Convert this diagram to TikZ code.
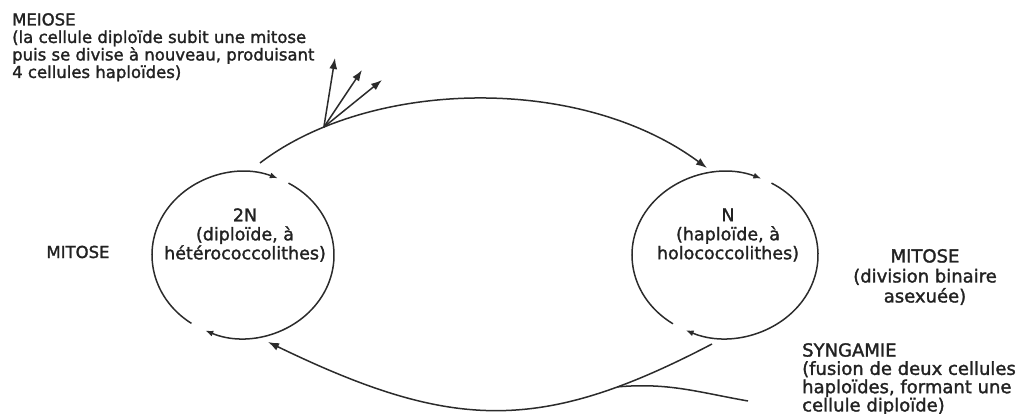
\documentclass[tikz,border=0pt]{standalone}
\usepackage{fontspec}
\setmainfont{DejaVu Sans}[FakeBold=1.6]
\usetikzlibrary{arrows.meta}
\definecolor{linec}{HTML}{2B2B2B}
\definecolor{textc}{HTML}{222222}
\begin{document}
\begin{tikzpicture}[x=1pt,y=1pt,
  conn/.style={draw=linec, line width=1.5pt},
  bigtip/.style={-{Latex[length=11pt,width=8pt]}},
  smalltip/.style={-{Latex[length=8pt,width=6pt]}},
  lbl/.style={font=\fontsize{17.5}{19}\selectfont, text=textc, inner sep=0pt, align=center},
  lblL/.style={font=\fontsize{16.5}{17.5}\selectfont, text=textc, inner sep=0pt, align=left}]
\useasboundingbox (0,0) rectangle (1023,414);
% cell centres
\coordinate (L) at (243,159);
\coordinate (R) at (725,159);
% texts
\node[lblL, anchor=north west] (meiose) at (12,401) {MEIOSE\\(la cellule diploïde subit une mitose\\puis se divise à nouveau, produisant\\4 cellules haploïdes)};
\node[lbl] (c2n) at (245,179) {2N\\(diploïde, à\\hétérococcolithes)};
\node[lbl] (cn) at (728,179) {N\\(haploïde, à\\holococcolithes)};
\node[lbl, font=\fontsize{16.5}{19}\selectfont] (mitL) at (78,162) {MITOSE};
\node[lbl, font=\fontsize{18}{20}\selectfont] (mitR) at (925,137) {MITOSE\\(division binaire\\asexuée)};
\node[lbl, font=\fontsize{18}{18.3}\selectfont, align=left, anchor=north west] (syng) at (802,71) {SYNGAMIE\\(fusion de deux cellules\\haploïdes, formant une\\cellule diploïde)};
% left cell (mitosis loop)
\draw[conn, smalltip] ([shift={(235.5:91 and 83)}]L) arc[start angle=235.5, end angle=67.5, x radius=91, y radius=83];
\draw[conn, smalltip] ([shift={(60:91 and 83)}]L) arc[start angle=60, end angle=-114.5, x radius=91, y radius=83];
% right cell (mitosis loop)
\draw[conn, smalltip] ([shift={(236:93 and 83)}]R) arc[start angle=236, end angle=67, x radius=93, y radius=83];
\draw[conn, smalltip] ([shift={(60:93 and 83)}]R) arc[start angle=60, end angle=-115, x radius=93, y radius=83];
% meiosis: 2N -> N
\coordinate (t0) at (260,251);
\coordinate (t1) at (707,246);
\draw[conn, bigtip] (t0) .. controls (370,335) and (580,340) .. (t1) coordinate[pos=0.17] (br);
\coordinate (m1) at (335,356);
\coordinate (m2) at (362,344);
\coordinate (m3) at (382,334);
\draw[conn, bigtip] (br) -- (m1);
\draw[conn, bigtip] (br) -- (m2);
\draw[conn, bigtip] (br) -- (m3);
% syngamy: N -> 2N
\coordinate (b0) at (712,70);
\coordinate (b1) at (268,72);
\draw[conn, bigtip] (b0) .. controls (540,-20) and (452,-17) .. (b1) coordinate[pos=0.2] (br2);
\coordinate (sy) at (748,13);
\draw[conn] (sy) to[out=170, in=5] (br2);
\end{tikzpicture}
\end{document}
